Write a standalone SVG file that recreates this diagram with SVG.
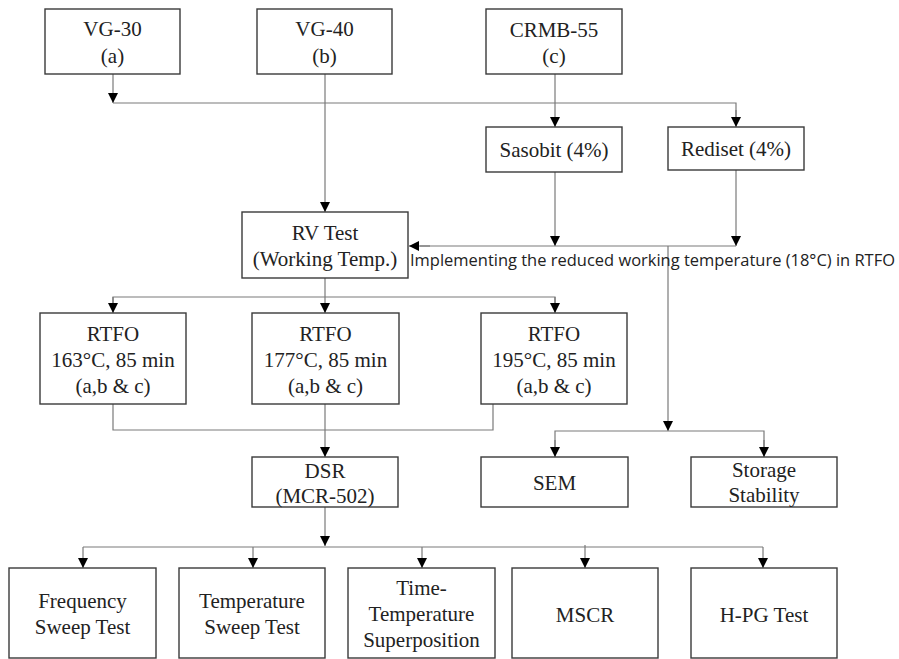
<svg xmlns="http://www.w3.org/2000/svg" width="899" height="659" viewBox="0 0 899 659">
<defs>
<marker id="arr" viewBox="0 0 10 10" refX="10" refY="5" markerWidth="10" markerHeight="10" markerUnits="userSpaceOnUse" orient="auto">
<path d="M0,0 L10,5 L0,10 z" fill="#000"/>
</marker>
</defs>
<style>
.box{fill:#fff;stroke:#3a3a3a;stroke-width:1.4}
.t{font-family:"Liberation Serif","Times New Roman",serif;font-size:21px;fill:#222;text-anchor:middle}
.c{fill:none;stroke:#7a7a7a;stroke-width:1.2}
.a{fill:none;stroke:#7a7a7a;stroke-width:1.2;marker-end:url(#arr)}
.note{font-family:"Open Sans","Noto Sans",sans-serif;font-size:17px;fill:#222}
</style>
<rect width="899" height="659" fill="#fff"/>
<g id="connectors">
<line class="a" x1="113" y1="74" x2="113" y2="103"/>
<polyline class="c" points="113,103 736,103 736,118"/>
<line class="a" x1="736" y1="110" x2="736" y2="127"/>
<line class="a" x1="555" y1="74" x2="555" y2="127"/>
<line class="a" x1="325" y1="74" x2="325" y2="212"/>
<line class="a" x1="555" y1="172" x2="555" y2="246"/>
<line class="a" x1="736" y1="170" x2="736" y2="246"/>
<line class="c" x1="736" y1="246" x2="420" y2="246"/>
<line class="a" x1="430" y1="246" x2="409" y2="246"/>
<line class="a" x1="668" y1="246" x2="668" y2="431"/>
<polyline class="c" points="555,448 555,431 764,431 764,448"/>
<line class="a" x1="555" y1="440" x2="555" y2="457"/>
<line class="a" x1="764" y1="440" x2="764" y2="457"/>
<line class="c" x1="325" y1="278" x2="325" y2="297"/>
<polyline class="c" points="113,305 113,297 555,297 555,305"/>
<line class="a" x1="113" y1="297" x2="113" y2="313"/>
<line class="a" x1="325" y1="297" x2="325" y2="313"/>
<line class="a" x1="555" y1="297" x2="555" y2="313"/>
<polyline class="c" points="113,404 113,430 493,430 493,404"/>
<line class="a" x1="325" y1="404" x2="325" y2="457"/>
<line class="a" x1="325" y1="507" x2="325" y2="546"/>
<line class="c" x1="83" y1="547" x2="763" y2="547"/>
<line class="a" x1="83" y1="547" x2="83" y2="568"/>
<line class="a" x1="253" y1="547" x2="253" y2="568"/>
<line class="a" x1="422" y1="547" x2="422" y2="568"/>
<line class="a" x1="585" y1="545" x2="585" y2="568"/>
<line class="a" x1="763" y1="547" x2="763" y2="568"/>
</g>
<g id="vg30"><rect class="box" x="45" y="9" width="135" height="65"/><text class="t" x="112.5" y="36">VG-30</text><text class="t" x="112.5" y="63">(a)</text></g>
<g id="vg40"><rect class="box" x="257" y="9" width="135" height="65"/><text class="t" x="324.5" y="36">VG-40</text><text class="t" x="324.5" y="63">(b)</text></g>
<g id="crmb55"><rect class="box" x="486" y="9" width="136" height="65"/><text class="t" x="554" y="37">CRMB-55</text><text class="t" x="554" y="63">(c)</text></g>
<g id="sasobit"><rect class="box" x="486" y="127" width="136" height="45"/><text class="t" x="554" y="157">Sasobit (4%)</text></g>
<g id="rediset"><rect class="box" x="668" y="127" width="136" height="43"/><text class="t" x="736" y="156">Rediset (4%)</text></g>
<g id="rvtest"><rect class="box" x="242" y="212" width="166" height="66"/><text class="t" x="325" y="240">RV Test</text><text class="t" x="325" y="266">(Working Temp.)</text></g>
<g id="note"><text class="note" x="410" y="266" textLength="485" lengthAdjust="spacingAndGlyphs">Implementing the reduced working temperature (18°C) in RTFO</text></g>
<g id="rtfo163"><rect class="box" x="40" y="313" width="146" height="91"/><text class="t" x="113" y="341">RTFO</text><text class="t" x="113" y="367">163°C, 85 min</text><text class="t" x="113" y="393">(a,b &amp; c)</text></g>
<g id="rtfo177"><rect class="box" x="252" y="313" width="147" height="91"/><text class="t" x="325.5" y="341">RTFO</text><text class="t" x="325.5" y="367">177°C, 85 min</text><text class="t" x="325.5" y="393">(a,b &amp; c)</text></g>
<g id="rtfo195"><rect class="box" x="481" y="313" width="146" height="91"/><text class="t" x="554" y="341">RTFO</text><text class="t" x="554" y="367">195°C, 85 min</text><text class="t" x="554" y="393">(a,b &amp; c)</text></g>
<g id="dsr"><rect class="box" x="252" y="457" width="146" height="50"/><text class="t" x="325" y="478">DSR</text><text class="t" x="325" y="503">(MCR-502)</text></g>
<g id="sem"><rect class="box" x="481" y="457" width="147" height="50"/><text class="t" x="554.5" y="490">SEM</text></g>
<g id="storage"><rect class="box" x="691" y="457" width="146" height="50"/><text class="t" x="764" y="477">Storage</text><text class="t" x="764" y="502">Stability</text></g>
<g id="freq"><rect class="box" x="9" y="568" width="147" height="90"/><text class="t" x="82.5" y="608">Frequency</text><text class="t" x="82.5" y="634">Sweep Test</text></g>
<g id="tempsweep"><rect class="box" x="179" y="568" width="146" height="90"/><text class="t" x="252" y="608">Temperature</text><text class="t" x="252" y="634">Sweep Test</text></g>
<g id="tts"><rect class="box" x="348" y="568" width="147" height="90"/><text class="t" x="421.5" y="595">Time-</text><text class="t" x="421.5" y="621">Temperature</text><text class="t" x="421.5" y="647">Superposition</text></g>
<g id="mscr"><rect class="box" x="512" y="568" width="146" height="90"/><text class="t" x="585" y="622">MSCR</text></g>
<g id="hpg"><rect class="box" x="691" y="568" width="146" height="90"/><text class="t" x="764" y="622">H-PG Test</text></g>
</svg>
